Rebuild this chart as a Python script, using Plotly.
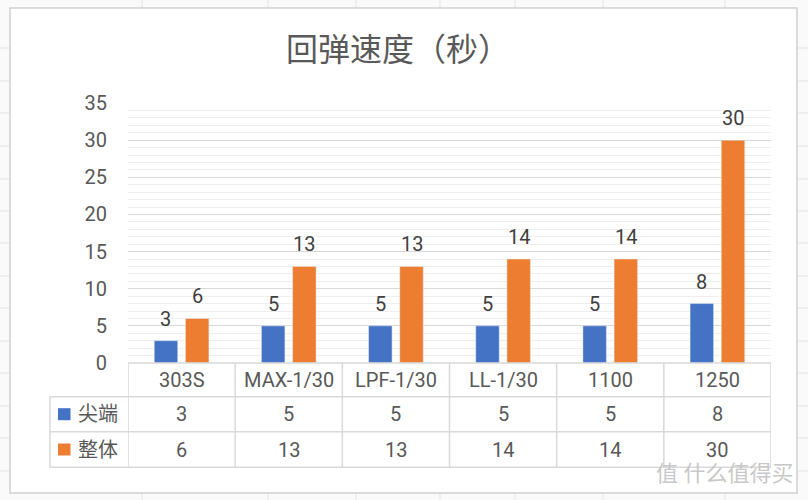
import plotly.graph_objects as go

# data
models = ["303S", "MAX-1/30", "LPF-1/30", "LL-1/30", "1100", "1250"]
tip = [3, 5, 5, 5, 5, 8]        # 尖端
whole = [6, 13, 13, 14, 14, 30]  # 整体
series_names = ["尖端", "整体"]
colors = ["#4472C4", "#ED7D31"]

W, H = 808, 500
FONT = "Roboto, 'Noto Sans CJK SC', sans-serif"
TXT = "#595959"
GRID = "#d9d9d9"
BARGAP = 0.418

def px(x):
    return x / W

def py(y):
    return 1 - y / H

fig = go.Figure()

for name, vals, c in zip(series_names, [tip, whole], colors):
    fig.add_trace(go.Bar(name=name, x=models, y=vals, marker_color=c))

annotations = []
# value labels above the bars (offset = half a bar slot in category units)
slot = (1 - BARGAP) / 2
for k, vals in enumerate([tip, whole]):
    for i, v in enumerate(vals):
        annotations.append(dict(x=i + (k - 0.5) * slot, y=v, xref="x", yref="y", text=str(v),
                                showarrow=False, xanchor="center", yanchor="bottom", yshift=8,
                                font=dict(size=20, color="#404040")))

shapes = []
# spreadsheet grid behind the chart
for yy in [48, 81, 113, 146, 179, 211, 243, 276, 308, 341, 373, 406, 438, 471]:
    shapes.append(dict(type="line", xref="paper", yref="paper", x0=0, x1=1, y0=py(yy), y1=py(yy),
                       line=dict(color="#e3e3e3", width=1), layer="below"))
for xx in [142, 268, 356, 440, 515, 603, 725]:
    shapes.append(dict(type="line", xref="paper", yref="paper", x0=px(xx), x1=px(xx), y0=0, y1=1,
                       line=dict(color="#e3e3e3", width=1), layer="below"))
# chart frame
shapes.append(dict(type="rect", xref="paper", yref="paper", x0=px(10), x1=px(797), y0=py(493), y1=py(8),
                   fillcolor="white", line=dict(color="#d0d0d0", width=1.5), layer="below"))

# data table lines
rows = [363, 396.7, 431.7, 467.3]
shapes.append(dict(type="line", xref="x", yref="paper", x0=-0.5, x1=len(models) - 0.5,
                   y0=py(rows[0]), y1=py(rows[0]), line=dict(color=GRID, width=1.5)))
for r in rows[1:]:
    shapes.append(dict(type="line", xref="paper", yref="paper", x0=px(50), x1=px(771),
                       y0=py(r), y1=py(r), line=dict(color=GRID, width=1.5)))
for i in range(len(models) + 1):
    shapes.append(dict(type="line", xref="x", yref="paper", x0=i - 0.5, x1=i - 0.5,
                       y0=py(rows[0]), y1=py(rows[3]), line=dict(color=GRID, width=1.5)))
shapes.append(dict(type="line", xref="paper", yref="paper", x0=px(50), x1=px(50),
                   y0=py(rows[1]), y1=py(rows[3]), line=dict(color=GRID, width=1.5)))

row_mid = [(rows[i] + rows[i + 1]) / 2 for i in range(3)]
for i, m in enumerate(models):
    for r, val in zip(row_mid, [m, tip[i], whole[i]]):
        annotations.append(dict(x=i, y=py(r), xref="x", yref="paper", text=str(val), showarrow=False,
                                xanchor="center", yanchor="middle", font=dict(size=20, color=TXT)))
# legend keys in the table
for k, name in enumerate(series_names):
    ym = row_mid[k + 1]
    shapes.append(dict(type="rect", xref="paper", yref="paper", x0=px(58), x1=px(70.5),
                       y0=py(ym + 6), y1=py(ym - 6), fillcolor=colors[k], line=dict(width=0)))
    annotations.append(dict(x=px(76), y=py(ym), xref="paper", yref="paper", text=name, showarrow=False,
                            xanchor="left", yanchor="middle", font=dict(size=20, color=TXT)))

# title
annotations.append(dict(x=px(398), y=py(50), xref="paper", yref="paper", text="回弹速度（秒）",
                        showarrow=False, xanchor="center", yanchor="middle",
                        font=dict(size=32, color=TXT)))
# watermark
annotations.append(dict(x=px(795), y=py(473), xref="paper", yref="paper", text="值 什么值得买",
                        showarrow=False, xanchor="right", yanchor="middle",
                        font=dict(size=22, color="rgba(190,190,190,0.85)")))

fig.update_layout(
    width=W, height=H,
    margin=dict(l=0, r=0, t=0, b=0, pad=0, autoexpand=False),
    paper_bgcolor="#fafafa", plot_bgcolor="rgba(0,0,0,0)",
    font=dict(family=FONT, color=TXT),
    barmode="group", bargap=BARGAP, bargroupgap=0.247,
    showlegend=False,
    shapes=shapes, annotations=annotations,
    xaxis=dict(domain=[px(128), px(771)], range=[-0.5, len(models) - 0.5], automargin=False,
               showticklabels=False, showgrid=False, zeroline=False, showline=False),
    yaxis=dict(domain=[py(363), py(103)], range=[0, 35], dtick=5, automargin=False,
               gridcolor=GRID, gridwidth=1.2, zeroline=False, showline=False,
               tickfont=dict(size=20, color=TXT), ticklabelstandoff=20,
               minor=dict(dtick=1, showgrid=True, gridcolor="#efefef", gridwidth=1)),
)

fig.write_html("out.html", config={"displayModeBar": False},
               post_script="document.body.style.margin='0';")
